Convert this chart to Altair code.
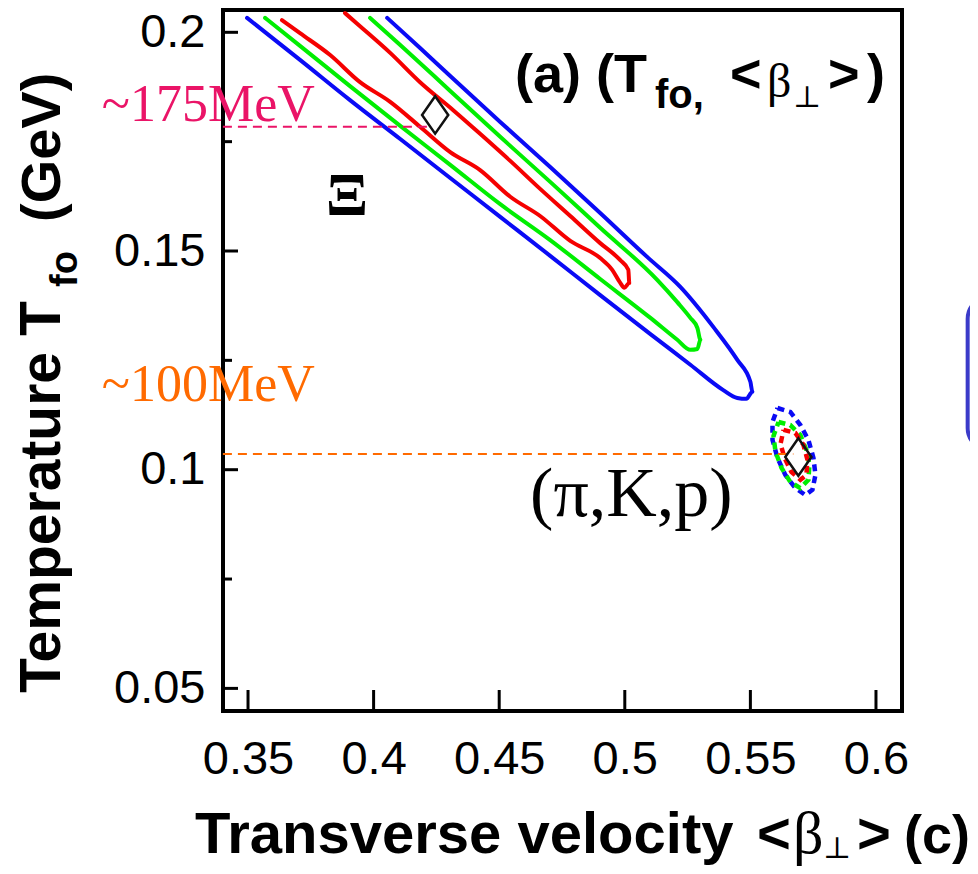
import altair as alt
import pandas as pd

# ---------------- data ----------------
x_ticks = [0.35, 0.4, 0.45, 0.5, 0.55, 0.6]
y_ticks = [0.05, 0.1, 0.15, 0.2]
y_minor = [0.075, 0.125, 0.175]

# Xi contours (beta_T, T_fo): 3 sigma (blue), 2 sigma (green), 1 sigma (red)
blue_x = [0.3496, 0.3707, 0.3906, 0.4106, 0.4305, 0.4504, 0.4703, 0.4902, 0.5102, 0.5261,
          0.5392, 0.5448, 0.5484, 0.5508, 0.5500, 0.5448, 0.5353, 0.5221, 0.5090, 0.4902,
          0.4703, 0.4504, 0.4305, 0.4185, 0.4054]
blue_y = [0.2033, 0.1937, 0.1845, 0.1756, 0.1667, 0.1578, 0.1489, 0.1399, 0.1310, 0.1240,
          0.1182, 0.1164, 0.1162, 0.1178, 0.1201, 0.1251, 0.1326, 0.1418, 0.1486, 0.1587,
          0.1692, 0.1795, 0.1900, 0.1964, 0.2033]
green_x = [0.3568, 0.3707, 0.3906, 0.4106, 0.4305, 0.4504, 0.4703, 0.4902, 0.5102, 0.5209,
           0.5261, 0.5289, 0.5301, 0.5289, 0.5261, 0.5209, 0.5129, 0.4902, 0.4703, 0.4504,
           0.4305, 0.4106, 0.3986]
green_y = [0.2033, 0.1969, 0.1877, 0.1786, 0.1697, 0.1607, 0.1525, 0.1436, 0.1347, 0.1297,
           0.1274, 0.1276, 0.1297, 0.1324, 0.1347, 0.1383, 0.1434, 0.1553, 0.1658, 0.1761,
           0.1866, 0.1971, 0.2033]
red_x = [0.3635, 0.3707, 0.3827, 0.3946, 0.4066, 0.4185, 0.4305, 0.4424, 0.4544, 0.4663,
         0.4783, 0.4902, 0.4950, 0.4982, 0.4998, 0.5018, 0.5014, 0.4982, 0.4902, 0.4783,
         0.4663, 0.4544, 0.4424, 0.4317, 0.4185, 0.4066, 0.3946, 0.3886]
red_y = [0.2028, 0.1998, 0.1948, 0.1886, 0.1841, 0.1784, 0.1726, 0.1685, 0.1624, 0.1580,
         0.1523, 0.1484, 0.1457, 0.1427, 0.1416, 0.1427, 0.1457, 0.1479, 0.1518, 0.1580,
         0.1642, 0.1706, 0.1768, 0.1822, 0.1886, 0.1953, 0.2014, 0.2044]

# (pi, K, p) small contours
sb_x = [0.5608, 0.5659, 0.5699, 0.5731, 0.5751, 0.5759, 0.5747, 0.5719, 0.5679, 0.5639, 0.5608, 0.5588, 0.5588, 0.5608]
sb_y = [0.1141, 0.1132, 0.1102, 0.1068, 0.1027, 0.0988, 0.0954, 0.0942, 0.0958, 0.0988, 0.1027, 0.1068, 0.1109, 0.1141]
sg_x = [0.5612, 0.5659, 0.5699, 0.5723, 0.5735, 0.5731, 0.5699, 0.5659, 0.5624, 0.5600, 0.5592, 0.5612]
sg_y = [0.1109, 0.1102, 0.1079, 0.1045, 0.1011, 0.0977, 0.0958, 0.0972, 0.1004, 0.1041, 0.1077, 0.1109]
sr_x = [0.5632, 0.5679, 0.5711, 0.5727, 0.5723, 0.5699, 0.5663, 0.5636, 0.5620, 0.5632]
sr_y = [0.1091, 0.1084, 0.1057, 0.1023, 0.0988, 0.0977, 0.0995, 0.1027, 0.1059, 0.1091]

# best fit points
best_x = [0.4245, 0.5691]
best_y = [0.1811, 0.1029]

# reference dashed lines
ref_T = [0.1784, 0.1036]
ref_x_start = [0.3400, 0.3400]
ref_x_end = [0.4225, 0.5671]
ref_colors = ["#EA1467", "#FF6A00"]
ref_labels = ["~175MeV", "~100MeV"]
ref_label_y = [0.1797, 0.1157]
ref_label_x = [0.2918, 0.2918]

# ---------------- scales ----------------
XS = alt.Scale(domain=[0.34004, 0.61036], nice=False, zero=False)
YS = alt.Scale(domain=[0.04483, 0.2051], nice=False, zero=False)

SANS = "Liberation Sans"
SERIF = "Liberation Serif"

xaxis = alt.Axis(values=x_ticks, format=".2~f", title=None, ticks=False, tickSize=0, domain=False,
                 grid=False, labelFont=SANS, labelFontSize=47, labelColor="black",
                 labelPadding=25, labelFlush=False, labelOverlap=False)
yaxis = alt.Axis(values=y_ticks, format=".2~f", title=None, ticks=False, tickSize=0, domain=False,
                 grid=False, labelFont=SANS, labelFontSize=47, labelColor="black",
                 labelPadding=18, labelFlush=False, labelOverlap=False)


def X(f):
    return alt.X(f, type="quantitative", scale=XS, axis=xaxis)


def Y(f):
    return alt.Y(f, type="quantitative", scale=YS, axis=yaxis)


def path(xs, ys):
    return pd.DataFrame({"x": xs, "y": ys, "i": list(range(len(xs)))})


layers = []

# inward ticks
layers.append(alt.Chart(pd.DataFrame({"v": y_ticks})).mark_rule(color="black", strokeWidth=3).encode(
    y=Y("v"), x=alt.value(0), x2=alt.value(15)))
layers.append(alt.Chart(pd.DataFrame({"v": y_minor})).mark_rule(color="black", strokeWidth=3).encode(
    y=Y("v"), x=alt.value(0), x2=alt.value(9)))
layers.append(alt.Chart(pd.DataFrame({"v": x_ticks})).mark_rule(color="black", strokeWidth=3).encode(
    x=X("v"), y=alt.value(701), y2=alt.value(680)))

# contours
for xs_, ys_, col in [(blue_x, blue_y, "#0A0AF5"), (green_x, green_y, "#00EE00"), (red_x, red_y, "#F50000")]:
    layers.append(alt.Chart(path(xs_, ys_)).mark_line(
        color=col, strokeWidth=4, strokeJoin="round", strokeCap="round", interpolate="monotone", clip=True
    ).encode(x=X("x"), y=Y("y"), order="i:Q"))

for xs_, ys_, col in [(sb_x, sb_y, "#0A0AF5"), (sg_x, sg_y, "#00EE00"), (sr_x, sr_y, "#F50000")]:
    layers.append(alt.Chart(path(xs_, ys_)).mark_line(
        color=col, strokeWidth=4.5, strokeDash=[7, 5], clip=True
    ).encode(x=X("x"), y=Y("y"), order="i:Q"))

# dashed reference lines
ref_df = pd.DataFrame({"x": ref_x_start, "x2": ref_x_end, "y": ref_T})
for k in range(2):
    layers.append(alt.Chart(ref_df.iloc[[k]]).mark_rule(
        color=ref_colors[k], strokeWidth=2, strokeDash=[9, 6]
    ).encode(x=X("x"), x2="x2", y=Y("y")))

# best fit diamonds
layers.append(alt.Chart(pd.DataFrame({"x": best_x, "y": best_y})).mark_point(
    shape="M0,-1L0.7,0L0,1L-0.7,0Z", size=1400, filled=False, stroke="#111111",
    strokeWidth=2.5, opacity=1
).encode(x=X("x"), y=Y("y")))

# reference labels
for k in range(2):
    layers.append(alt.Chart(pd.DataFrame({"x": [ref_label_x[k]], "y": [ref_label_y[k]], "t": [ref_labels[k]]})).mark_text(
        align="left", baseline="alphabetic", font=SERIF, fontSize=52, color=ref_colors[k]
    ).encode(x=X("x"), y=Y("y"), text="t:N"))

# particle labels
layers.append(alt.Chart(pd.DataFrame({"x": [0.3894], "y": [0.1626], "t": ["Ξ"]})).mark_text(
    align="center", baseline="middle", font=SERIF, fontSize=62, fontWeight="bold", color="black"
).encode(x=X("x"), y=Y("y"), text="t:N"))
layers.append(alt.Chart(pd.DataFrame({"x": [0.5026], "y": [0.0942], "t": ["(π,K,p)"]})).mark_text(
    align="center", baseline="middle", font=SERIF, fontSize=70, color="black"
).encode(x=X("x"), y=Y("y"), text="t:N"))

# partial box at right edge
layers.append(alt.Chart(pd.DataFrame({"x": [0.6365], "x2": [0.665], "y": [0.1395], "y2": [0.1045]})).mark_rect(
    fill=None, filled=False, stroke="#3B3BC9", strokeWidth=4, cornerRadius=22, clip=False
).encode(x=X("x"), x2="x2", y=Y("y"), y2="y2"))


def txt(s, x, y, size, font=SANS, weight="bold", angle=0):
    return alt.Chart(pd.DataFrame({"t": [s]})).mark_text(
        align="left", baseline="alphabetic", font=font, fontSize=size, fontWeight=weight,
        color="black", angle=angle
    ).encode(x=alt.value(x), y=alt.value(y), text="t:N")


# y title (rotated)
layers += [
    txt("Temperature T", -163, 683, 57, angle=270),
    txt("fo", -146, 277, 38, angle=270),
    txt("(GeV)", -163, 212, 56, angle=270),
]
# x title
layers += [
    txt("Transverse velocity", -28, 843, 58),
    txt("<", 534, 843, 58),
    txt("β", 570, 843, 60, font=SERIF, weight="normal"),
    txt("⊥", 600, 848, 30, font="DejaVu Serif", weight="normal"),
    txt(">", 634, 843, 58),
    txt("(c)", 681, 843, 54),
]
# panel label
layers += [
    txt("(a) (T", 292, 82, 54),
    txt("fo,", 432, 98, 40),
    txt("<", 507, 82, 54),
    txt("β", 544, 87, 48, font=SERIF, weight="normal"),
    txt("⊥", 570, 97, 30, font="DejaVu Serif", weight="normal"),
    txt(">", 605, 82, 54),
    txt(")", 644, 82, 54),
]

chart = alt.layer(*layers).properties(
    width=679, height=701,
    autosize=alt.AutoSizeParams(type="none"),
    padding={"left": 215, "top": 2, "right": 68, "bottom": 155},
    background="white",
).configure_view(stroke="black", strokeWidth=4)

chart.save("out.html", embed_options={"renderer": "svg", "actions": False})
